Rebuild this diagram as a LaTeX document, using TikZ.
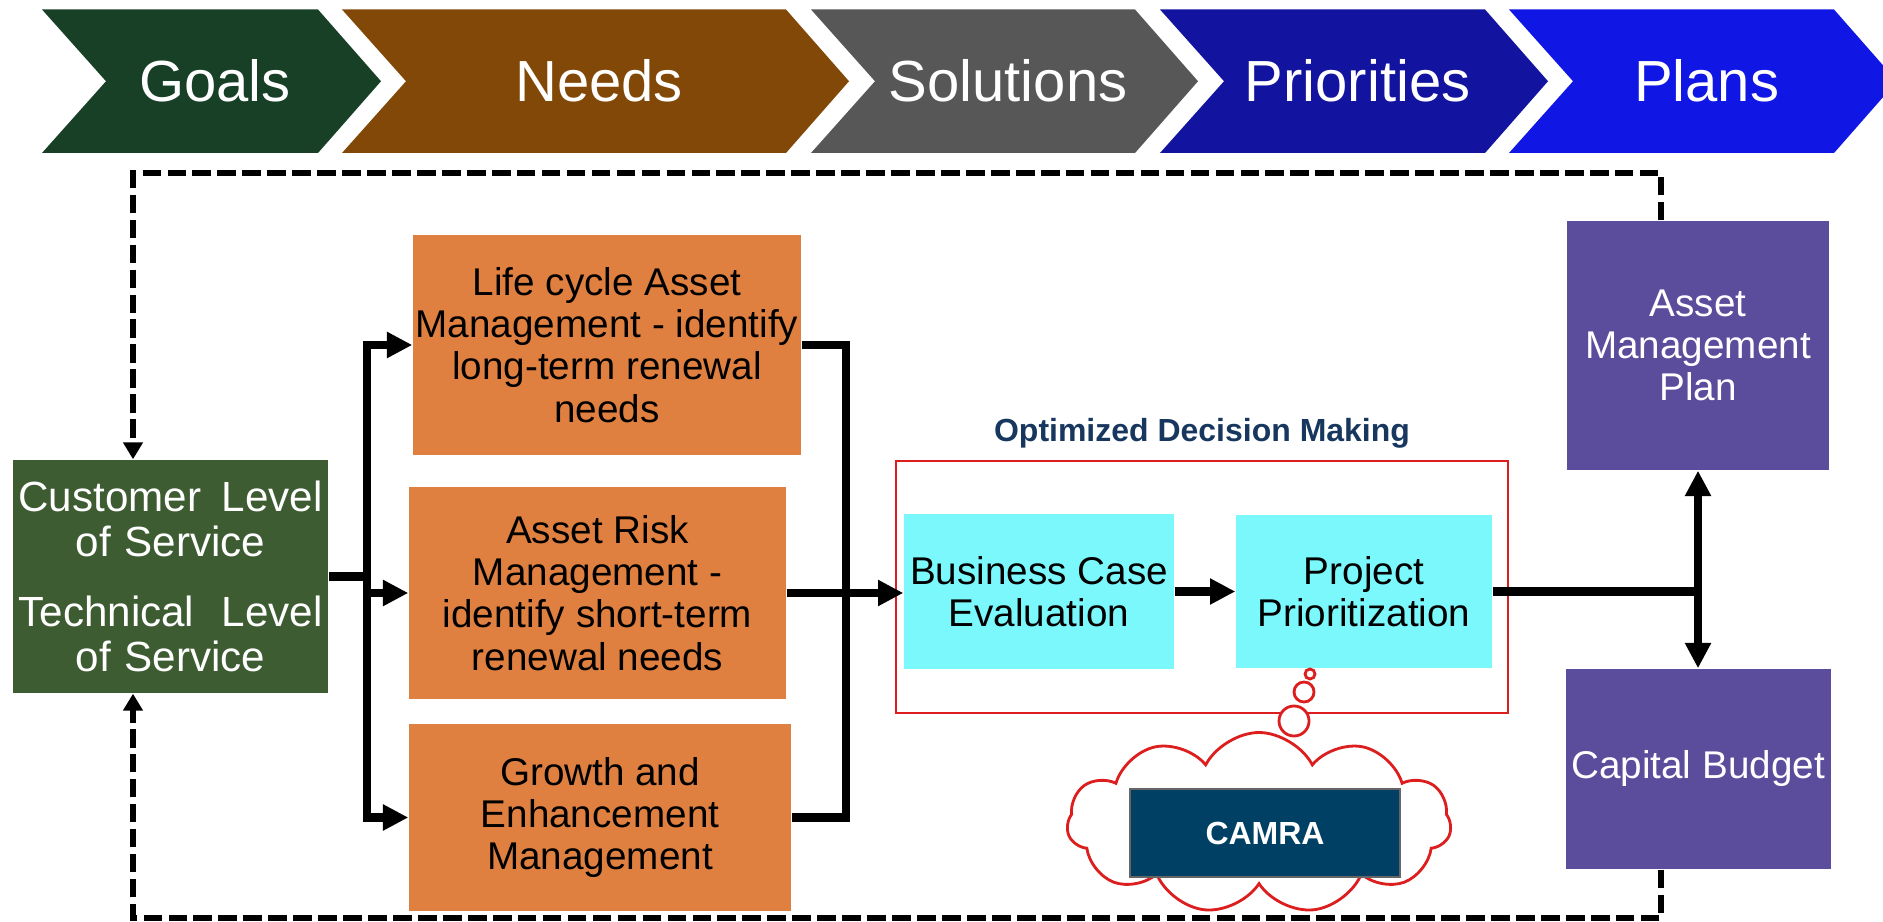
\documentclass[tikz,border=0pt]{standalone}
\usepackage{fontspec}
\setmainfont{Liberation Sans}
\usetikzlibrary{positioning, arrows.meta, shapes.symbols}
\definecolor{goalgreen}{RGB}{24,64,38}
\definecolor{needbrown}{RGB}{130,72,8}
\definecolor{solgray}{RGB}{87,87,87}
\definecolor{priodark}{RGB}{18,20,160}
\definecolor{planblue}{RGB}{16,22,228}
\definecolor{levelgreen}{RGB}{62,92,50}
\definecolor{needorange}{RGB}{224,128,64}
\definecolor{evalcyan}{RGB}{122,248,252}
\definecolor{planpurple}{RGB}{91,76,156}
\definecolor{camrablue}{RGB}{0,64,100}
\definecolor{odmred}{RGB}{220,30,30}
\definecolor{odmtext}{RGB}{23,55,94}
\tikzset{
    stage/.style={text=white, font=\fontsize{16.5}{18}\selectfont}, % banner labels
    box/.style={inner sep=0pt, align=center, font=\fontsize{11}{12}\selectfont},
    needbox/.style={box, fill=needorange},
    evalbox/.style={box, fill=evalcyan},
    planbox/.style={box, fill=planpurple, text=white},
    flow/.style={line width=2.5pt},
    feedback/.style={line width=1.7pt, dash pattern=on 5.3pt off 1.8pt, -{Triangle[length=4.8pt, width=5.4pt]}},
}

\begin{document}
\begin{tikzpicture}[
    on grid,
    >={Triangle[length=7.2pt, width=7pt]}
]
    \useasboundingbox (0,0) rectangle (18.83,-9.22);

    % --- Stage banner ---
    \foreach \xl/\xr/\col/\lbl in {0.42/3.18/goalgreen/Goals, 3.42/7.86/needbrown/Needs,
        8.11/11.35/solgray/Solutions, 11.60/14.85/priodark/Priorities, 15.09/18.34/planblue/Plans}{
        \fill[\col] (\xl,-0.095) -- (\xr,-0.095) -- ++(0.63,-0.7175) -- (\xr,-1.53)
            -- (\xl,-1.53) -- ++(0.64,0.7175) -- cycle;
        \node[stage] (stage-\lbl) at ({(\xl+\xr)/2+0.35},-0.8125) {\lbl};
    }

    % --- Levels of service ---
    \node[box, fill=levelgreen, text=white, minimum width=3.15cm, minimum height=2.33cm,
        text width=3.04cm, font=\fontsize{12}{12.8}\selectfont] (los) at (1.705,-5.765)
        {Customer\hfill Level\\of Service\\[7pt]Technical\hfill Level\\of Service};

    % --- Needs ---
    \node[needbox, minimum width=3.88cm, minimum height=2.20cm] (life) at (6.07,-3.45)
        {Life cycle Asset\\Management - identify\\long-term renewal\\needs};
    \node[needbox, minimum width=3.77cm, minimum height=2.12cm, below=2.48cm of life, xshift=-0.095cm] (risk)
        {Asset Risk\\Management -\\identify short-term\\renewal needs};
    \node[needbox, minimum width=3.82cm, minimum height=1.87cm, below=2.245cm of risk, xshift=0.025cm] (growth)
        {Growth and\\Enhancement\\Management};

    % --- Optimized decision making ---
    \node[draw=odmred, line width=0.6pt, minimum width=6.12cm, minimum height=2.52cm] (odm) at (12.02,-5.87) {};
    \node[font=\fontsize{9.1}{10}\selectfont\bfseries, text=odmtext, above=1.54cm of odm] (odmtitle)
        {Optimized Decision Making};
    \node[evalbox, minimum width=2.70cm, minimum height=1.55cm] (bce) at (10.39,-5.915)
        {Business Case\\Evaluation};
    \node[evalbox, minimum width=2.56cm, minimum height=1.53cm, right=3.25cm of bce] (prio)
        {Project\\Prioritization};

    % --- CAMRA thought ---
    \node[cloud, cloud puffs=11, cloud puff arc=125, cloud ignores aspect, draw=odmred, fill=white, line width=0.8pt,
        minimum width=3.84cm, minimum height=1.81cm] (cloud) at (12.59,-8.23) {};
    \draw[odmred, fill=white, line width=0.8pt] (13.10,-6.74) circle (0.05)
        (13.04,-6.92) circle (0.10) (12.94,-7.21) circle (0.15);
    \node[fill=camrablue, draw=black!60, line width=0.4pt, text=white, font=\fontsize{9.1}{10}\selectfont\bfseries,
        minimum width=2.70cm, minimum height=0.88cm] (camra) at (12.65,-8.33) {CAMRA};

    % --- Plans ---
    \node[planbox, minimum width=2.62cm, minimum height=2.49cm] (amp) at (16.98,-3.455)
        {Asset\\Management\\Plan};
    \node[planbox, minimum width=2.65cm, minimum height=2.00cm, below=4.235cm of amp] (cb)
        {Capital Budget};

    % --- Flow ---
    \coordinate (busl) at (3.67,-5.765);
    \coordinate (busr) at (8.46,-5.93);
    \draw[flow] (los.east) -- (busl);
    \draw[flow, ->] (busl) |- (life.west);
    \draw[flow, ->] (busl) |- (growth.west);
    \draw[flow, ->] (busl |- risk.west) -- (risk.west);
    \draw[flow] (life.east) -| (busr) |- (growth.east);
    \draw[flow, ->] (risk.east) -- (risk.east -| bce.west);
    \draw[flow, ->] (bce.east) -- (bce.east -| prio.west);
    \draw[flow] (prio.east) -- (prio.east -| amp.south);
    \draw[flow, <->] (amp.south) -- (cb.north);

    % --- Feedback loops ---
    \coordinate (fbtop) at (1.33,-1.73);
    \coordinate (fbbot) at (1.33,-9.18);
    \draw[feedback] ([xshift=-0.37cm]amp.north) |- (fbtop) -- (fbtop |- los.north);
    \draw[feedback] ([xshift=-0.37cm]cb.south) |- (fbbot) -- (fbbot |- los.south);

\end{tikzpicture}
\end{document}
